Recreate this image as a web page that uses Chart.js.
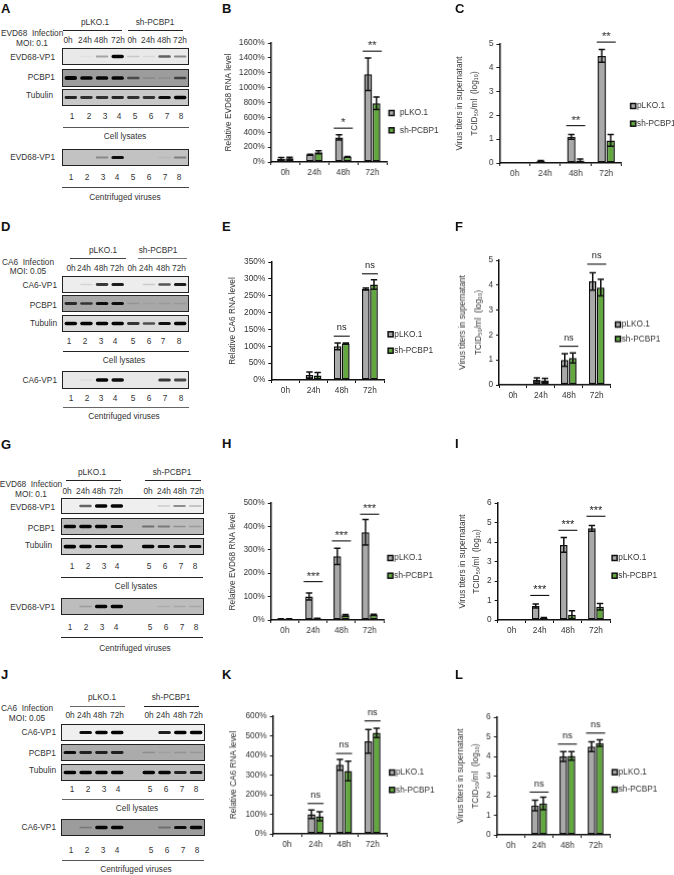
<!DOCTYPE html>
<html><head><meta charset="utf-8">
<script src="https://cdn.jsdelivr.net/npm/chart.js@4"></script>
<style>
html,body{margin:0;padding:0;background:#fff}
#fig{position:relative;width:674px;height:875px;overflow:hidden;background:#fff;filter:blur(.35px);font-family:"Liberation Sans",Arial,sans-serif;color:#333}
.t{position:absolute;white-space:pre;line-height:1;font-size:8.3px}
.r{position:absolute}
.blot{position:absolute;box-sizing:border-box;border:1px solid #222;overflow:hidden}
.blot canvas{display:block;filter:blur(.6px)}
canvas.c{position:absolute}
</style></head><body><div id="fig"></div>
<script>
// ---------- bar chart data ----------
const timepoints=['0h','24h','48h','72h'];
const seriesNames=['pLKO.1','sh-PCBP1'];
const B_pLKO=[45,100,330,1180], B_pLKO_err=[15,5,35,220], B_sh=[50,130,70,790], B_sh_err=[15,20,5,85];
const B_sig=['','','*','**'], B_sigAt=[null,null,455,1490];
const C_pLKO=[0,0.08,1.1,4.5], C_pLKO_err=[0,0.03,0.1,0.27], C_sh=[0,0,0.1,0.95], C_sh_err=[0,0,0.07,0.25];
const C_sig=['','','**','**'], C_sigAt=[null,null,1.57,5.08];
const E_pLKO=[1,15,100,270], E_pLKO_err=[0,9,10,3], E_sh=[2,13,108,283], E_sh_err=[0,9,2,14];
const E_sig=['','','ns','ns'], E_sigAt=[null,null,130,315];
const F_pLKO=[0.01,0.2,1.0,4.15], F_pLKO_err=[0,0.08,0.25,0.35], F_sh=[0.01,0.18,1.08,3.9], F_sh_err=[0,0.08,0.2,0.33];
const F_sig=['','','ns','ns'], F_sigAt=[null,null,1.55,4.84];
const H_pLKO=[4,100,272,375], H_pLKO_err=[1,15,35,55], H_sh=[4,7,20,22], H_sh_err=[1,1,4,3];
const H_sig=['','***','***','***'], H_sigAt=[null,164,338,452];
const I_pLKO=[0,0.72,3.85,4.7], I_pLKO_err=[0,0.1,0.38,0.15], I_sh=[0,0.1,0.27,0.68], I_sh_err=[0,0.03,0.2,0.17];
const I_sig=['','***','***','***'], I_sigAt=[null,1.26,4.6,5.32];
const K_pLKO=[2,100,352,472], K_pLKO_err=[0,22,28,60], K_sh=[2,90,320,515], K_sh_err=[0,23,50,24];
const K_sig=['','ns','ns','ns'], K_sigAt=[null,155,410,576];
const L_pLKO=[0,1.5,4.0,4.5], L_pLKO_err=[0,0.27,0.25,0.25], L_sh=[0,1.6,4.03,4.68], L_sh_err=[0,0.32,0.22,0.17];
const L_sig=['','ns','ns','ns'], L_sigAt=[null,2.18,4.63,5.19];
// ---------- blot band intensities (lanes 1-8; null = empty gap lane) ----------
const A_VP1=[0,.03,.25,.95,.12,.06,.5,.35], A_PCBP1=[.95,.9,.9,.9,.45,.1,.08,.5], A_Tub=[.7,.65,.65,.7,.65,.65,.8,.85], A_Vir=[0,0,.25,.8,0,0,.04,.3];
const D_VP1=[0,.08,.65,.75,0,.12,.55,.75], D_PCBP1=[.65,.6,.8,.8,.1,.05,.07,.08], D_Tub=[.85,.85,.95,.9,.65,.55,.8,.9], D_Vir=[0,.04,.85,.8,0,0,.65,.6];
const G_VP1=[0,.5,1,1,null,0,.12,.35,.2], G_PCBP1=[.9,.85,.85,.8,null,.35,.3,.2,.15], G_Tub=[1,.9,.8,.85,null,.85,.8,.75,.8], G_Vir=[0,.15,.9,.9,null,0,.08,.1,.1];
const J_VP1=[0,.8,.95,.9,null,0,.75,.9,.95], J_PCBP1=[.8,.7,.7,.7,null,.15,.06,.12,.1], J_Tub=[.9,.85,.85,.95,null,.95,.85,.7,.75], J_Vir=[0,.2,.9,.95,null,0,.25,.8,.9];
const lanes=['1','2','3','4','5','6','7','8'];
const hours=['0h','24h','48h','72h','0h','24h','48h','72h'];

const FONT='"Liberation Sans",Arial,sans-serif', FS=8.3, TXT='#333';
const GRAY='#a9a9a9', GREEN='#62a83f', EDGE='#111';
const fig=document.getElementById('fig');
function T(x,y,s,o={}){const d=document.createElement('div');d.className='t';d.textContent=s;
 const a=o.a||'c';d.style.left=x+'px';d.style.top=y+'px';
 d.style.transform=`translate(${a==='c'?'-50%':a==='r'?'-100%':'0'},-50%)`;
 if(o.b){d.style.fontWeight='bold';d.style.color='#111'} if(o.s)d.style.fontSize=o.s+'px';fig.appendChild(d);}
function R(x1,x2,y,c='#222'){const d=document.createElement('div');d.className='r';d.style.cssText=`left:${x1}px;top:${y-.5}px;width:${x2-x1}px;height:1px;background:${c}`;fig.appendChild(d);}

const errorBars={id:'errorBars',afterDatasetsDraw(ch){const c=ch.ctx,y=ch.scales.y;c.save();c.strokeStyle=EDGE;c.lineWidth=1.5;
 ch.data.datasets.forEach((ds,i)=>{ch.getDatasetMeta(i).data.forEach((b,j)=>{const e=ds.errors[j];if(!e)return;
  const t=y.getPixelForValue(ds.data[j]+e),u=y.getPixelForValue(ds.data[j]-e),x=b.x,w=3.2;
  c.beginPath();c.moveTo(x,t);c.lineTo(x,u);c.moveTo(x-w,t);c.lineTo(x+w,t);c.moveTo(x-w,u);c.lineTo(x+w,u);c.stroke();});});c.restore();}};
const sigMarks={id:'sigMarks',afterDraw(ch,_a,o){const c=ch.ctx,x=ch.scales.x,y=ch.scales.y;c.save();c.textAlign='center';c.textBaseline='middle';
 o.labels.forEach((s,j)=>{if(!s)return;const cx=x.getPixelForValue(j),py=y.getPixelForValue(o.at[j]),ns=s==='ns';
  c.strokeStyle='#111';c.lineWidth=1.1;c.beginPath();c.moveTo(cx-o.half,py);c.lineTo(cx+o.half,py);c.stroke();
  c.font=`${ns?9.3:11}px ${FONT}`;c.fillStyle='#222';c.fillText(s,cx,py-(ns?8.5:5));});c.restore();}};
const legendPlace={id:'legendPlace',afterLayout(ch,_a,o){const L=ch.legend,pad=o.step-FS;
  const lx=o.textX-ch.canvas.offsetLeft-FS/2-1-pad,ly=o.firstY-ch.canvas.offsetTop-FS/2-pad;
  const dx=lx-L.left,dy=ly-L.top;L.left=lx;L.top=ly;L.right=lx+120;L.bottom=ly+60;
  (L.legendHitBoxes||[]).forEach(h=>{h.left+=dx;h.top+=dy;});},
 afterDraw(ch,_a,o){const c=ch.ctx;c.save();ch.data.datasets.forEach((ds,i)=>{
   const s=5,x=o.textX-ch.canvas.offsetLeft-o.gap-s-.7,y=o.firstY-ch.canvas.offsetTop+i*o.step-s/2;
   c.fillStyle=ds.backgroundColor;c.strokeStyle=EDGE;c.lineWidth=1.5;c.fillRect(x,y,s,s);c.strokeRect(x,y,s,s);});c.restore();}};

function barPanel(p){
 const LH=p.sep||10, x1=p.titleX;
 const cl=x1-LH/2, ct=p.top-26, cb=p.bottom+22, cr=Math.min(674,p.right+72);
 const cv=document.createElement('canvas');cv.className='c';cv.width=cr-cl;cv.height=cb-ct;
 cv.style.cssText=`left:${cl}px;top:${ct}px;width:${cr-cl}px;height:${cb-ct}px`;fig.appendChild(cv);
 new Chart(cv,{type:'bar',data:{labels:timepoints,datasets:[
   {label:seriesNames[0],data:p.a,errors:p.ae,backgroundColor:GRAY,borderColor:EDGE,borderWidth:1.5},
   {label:seriesNames[1],data:p.b,errors:p.be,backgroundColor:GREEN,borderColor:EDGE,borderWidth:1.5}]},
  plugins:[errorBars,sigMarks,legendPlace],
  options:{responsive:false,animation:false,devicePixelRatio:1,
   layout:{padding:{left:0,top:p.top-ct,right:cr-p.right,bottom:0}},
   datasets:{bar:{categoryPercentage:.58,barPercentage:.94,borderSkipped:false}},
   scales:{
    x:{offset:true,afterFit:s=>{s.height=cb-p.bottom},
       grid:{display:true,drawOnChartArea:false,color:'#111',tickLength:3,tickWidth:1,offset:true},
       border:{color:'#111',width:1.5},
       ticks:{font:{family:FONT,size:FS},color:TXT,padding:3,maxRotation:0,autoSkip:false}},
    y:{min:0,max:p.max,afterFit:s=>{s.width=p.axisX-cl},
       grid:{drawOnChartArea:false,color:'#111',tickLength:3,tickWidth:1},
       border:{color:'#111',width:1.5},
       title:{display:true,text:p.title,color:TXT,padding:0,font:{family:FONT,size:FS,lineHeight:LH/FS}},
       ticks:{stepSize:p.step,font:{family:FONT,size:FS},color:TXT,padding:3,callback:p.pct?v=>v+'%':v=>v}}},
   plugins:{tooltip:{enabled:false},
    legend:{position:'chartArea',align:'start',labels:{boxWidth:1,boxHeight:1,padding:p.legStep-FS,color:TXT,font:{family:FONT,size:FS},
      generateLabels:ch=>ch.data.datasets.map((d,i)=>({text:d.label,fillStyle:'transparent',strokeStyle:'transparent',lineWidth:0,datasetIndex:i,fontColor:TXT}))}},
    legendPlace:{textX:p.legX,firstY:p.legY,step:p.legStep,gap:p.gap===undefined?.5:p.gap},
    sigMarks:{labels:p.sig,at:p.sigAt,half:p.half||9.5}}}});
}
function blot(x1,x2,y1,y2,bg,vals,mid=.5){
 const d=document.createElement('div');d.className='blot';d.style.cssText=`left:${x1}px;top:${y1}px;width:${x2-x1}px;height:${y2-y1}px;background:${bg}`;
 const cv=document.createElement('canvas');cv.width=x2-x1-2;cv.height=y2-y1-2;d.appendChild(cv);fig.appendChild(d);
 new Chart(cv,{type:'bar',data:{labels:vals.map((_,i)=>String(i)),datasets:[{
   data:vals.map(v=>v===null?null:[mid-.04-.085*v,mid+.04+.085*v]),
   backgroundColor:vals.map(v=>`rgba(5,5,5,${v===null?0:Math.min(1,v*1.2)})`),borderRadius:2,borderSkipped:false,
   barPercentage:.8,categoryPercentage:1}]},
  options:{responsive:false,animation:false,devicePixelRatio:1,layout:{padding:0},
   scales:{x:{display:false},y:{display:false,min:0,max:1}},plugins:{legend:{display:false},tooltip:{enabled:false}}}});
}
// ---------- axis titles ----------
const V='Virus titers in supernatant', TC='TCID\u2085\u2080/ml  (log\u2081\u2080)';
const chartsCfg=[
 {a:B_pLKO,ae:B_pLKO_err,b:B_sh,be:B_sh_err,sig:B_sig,sigAt:B_sigAt,axisX:270.7,top:42.7,bottom:162.3,right:386.7,max:1600,step:200,pct:1,title:'Relative EVD68 RNA level',titleX:229,legX:399,legY:113,legStep:17.3,gap:5},
 {a:C_pLKO,ae:C_pLKO_err,b:C_sh,be:C_sh_err,sig:C_sig,sigAt:C_sigAt,axisX:499.3,top:44.3,bottom:163.3,right:621.7,max:5,step:1,title:[V,TC],titleX:459.7,sep:15.3,legX:636,legY:106,legStep:17.7},
 {a:E_pLKO,ae:E_pLKO_err,b:E_sh,be:E_sh_err,sig:E_sig,sigAt:E_sigAt,axisX:271,top:262.3,bottom:380.3,right:384,max:350,step:50,pct:1,title:'Relative CA6 RNA level',titleX:232.7,legX:394.3,legY:334.3,legStep:16.4,half:8},
 {a:F_pLKO,ae:F_pLKO_err,b:F_sh,be:F_sh_err,sig:F_sig,sigAt:F_sigAt,axisX:498.7,top:260,bottom:384.7,right:610.7,max:5,step:1,title:[V,TC],titleX:462,sep:16.7,legX:621.7,legY:324,legStep:14.3},
 {a:H_pLKO,ae:H_pLKO_err,b:H_sh,be:H_sh_err,sig:H_sig,sigAt:H_sigAt,axisX:271,top:502.7,bottom:620.3,right:384,max:500,step:100,pct:1,title:'Relative EVD68 RNA level',titleX:233.3,legX:393.3,legY:558,legStep:17.7},
 {a:I_pLKO,ae:I_pLKO_err,b:I_sh,be:I_sh_err,sig:I_sig,sigAt:I_sigAt,axisX:497.3,top:502.7,bottom:620.3,right:610,max:6,step:1,title:[V,TC],titleX:462,sep:14.7,legX:618.3,legY:558,legStep:17.7},
 {a:K_pLKO,ae:K_pLKO_err,b:K_sh,be:K_sh_err,sig:K_sig,sigAt:K_sigAt,axisX:273,top:716.3,bottom:834,right:386.7,max:600,step:100,pct:1,title:'Relative CA6 RNA level',titleX:234.3,legX:395,legY:772,legStep:17.3,half:8},
 {a:L_pLKO,ae:L_pLKO_err,b:L_sh,be:L_sh_err,sig:L_sig,sigAt:L_sigAt,axisX:496.7,top:717.3,bottom:835,right:610,max:6,step:1,title:[V,TC],titleX:460.7,sep:15.3,legX:617.7,legY:771.7,legStep:17.3}
];
chartsCfg.forEach(barPanel);

// ---------- panel letters ----------
[['A',1,8],['B',222,8],['C',455,8],['D',1,226],['E',222,226],['F',455,226],['G',1,444],['H',222,443],['I',455,443],['J',1,674],['K',222,674],['L',455,674]]
 .forEach(l=>T(l[1],l[2],l[0],{a:'l',b:1,s:13}));

function row(xs,y,arr){xs.forEach((x,i)=>T(x,y,arr[i]));}
// Panel A
T(95,22,'pLKO.1');R(63,122,30);T(155,22,'sh-PCBP1');R(128,183,30);
T(1,33,'EVD68  Infection',{a:'l'});T(32,43,'MOI: 0.1');
row([68,85,101,118,132,148,164,180],40,hours);
blot(62,189,48,65,'#e9e9e9',A_VP1);blot(62,189,69,87,'#9c9c9c',A_PCBP1);blot(62,189,89,106,'#c8c8c8',A_Tub);blot(62,189,149,166,'#c2c2c2',A_Vir);
T(55,57,'EVD68-VP1',{a:'r'});T(55,77,'PCBP1',{a:'r'});T(53,95,'Tubulin',{a:'r'});T(55,157,'EVD68-VP1',{a:'r'});
row([72,89,105,119,135,151,167,181],116,lanes);R(63,189,127,'#555');T(125,136,'Cell lysates');
row([71,87,103,117,133,149,165,179],177,lanes);R(62,189,187,'#444');T(125,197,'Centrifuged viruses');
// Panel D
T(103,250,'pLKO.1');R(70,126,258,'#444');T(158,250,'sh-PCBP1');R(138,187,258,'#777');
T(28,262,'CA6  Infection');T(28,271,'MOI: 0.05');
row([71,84,101,117,132,146,163,179],268,hours);
blot(62,189,276,293,'#ededed',D_VP1);blot(62,189,295,312,'#a8a8a8',D_PCBP1);blot(62,189,315,332,'#dcdcdc',D_Tub);blot(62,189,371,389,'#e8e8e8',D_Vir);
T(57,285,'CA6-VP1',{a:'r'});T(57,305,'PCBP1',{a:'r'});T(57,323,'Tubulin',{a:'r'});T(57,380,'CA6-VP1',{a:'r'});
row([69,85,101,115,133,149,163,179],341,lanes);R(63,189,351);T(124,360,'Cell lysates');
row([71,87,101,115,133,149,165,181],398,lanes);R(63,189,407,'#666');T(124,416,'Centrifuged viruses');
// Panel G
T(92,472,'pLKO.1');R(66,121,480);T(172,472,'sh-PCBP1');R(145,201,480);
T(31,484,'EVD68  Infection');T(31,494,'MOI: 0.1');
row([67,83,99,116,148,164,180,197],491,hours);
blot(61,204,498,514,'#efefef',G_VP1);blot(61,204,518,535,'#bcbcbc',G_PCBP1);blot(61,204,538,555,'#cccccc',G_Tub);blot(61,204,598,615,'#bdbdbd',G_Vir);
T(55,507,'EVD68-VP1',{a:'r'});T(55,528,'PCBP1',{a:'r'});T(52,545,'Tubulin',{a:'r'});T(55,607,'EVD68-VP1',{a:'r'});
row([72,88,104,117,149,165,181,195],566,lanes);R(61,203,577);T(136,586,'Cell lysates');
row([70,86,102,116,150,166,182,196],627,lanes);R(61,203,637.5);T(135,648,'Centrifuged viruses');
// Panel J
T(102,697,'pLKO.1');R(70,125,706,'#666');T(171,697,'sh-PCBP1');R(144,199,706);
T(27,708,'CA6  Infection');T(27,718,'MOI: 0.05');
row([70,84,100,117,149,163,180,196],715,hours);
blot(61,205,724,741,'#efefef',J_VP1);blot(61,205,744,761,'#ababab',J_PCBP1);blot(61,205,764,781,'#bcbcbc',J_Tub);blot(61,205,819,836,'#9c9c9c',J_Vir);
T(56,732,'CA6-VP1',{a:'r'});T(56,753,'PCBP1',{a:'r'});T(56,770,'Tubulin',{a:'r'});T(56,827,'CA6-VP1',{a:'r'});
row([72,88,104,118,150,166,182,196],789,lanes);R(62,204,799,'#666');T(137,808,'Cell lysates');
row([71,87,103,117,151,167,183,197],850,lanes);R(62,204,860,'#555');T(136,869,'Centrifuged viruses');
</script></body></html>
